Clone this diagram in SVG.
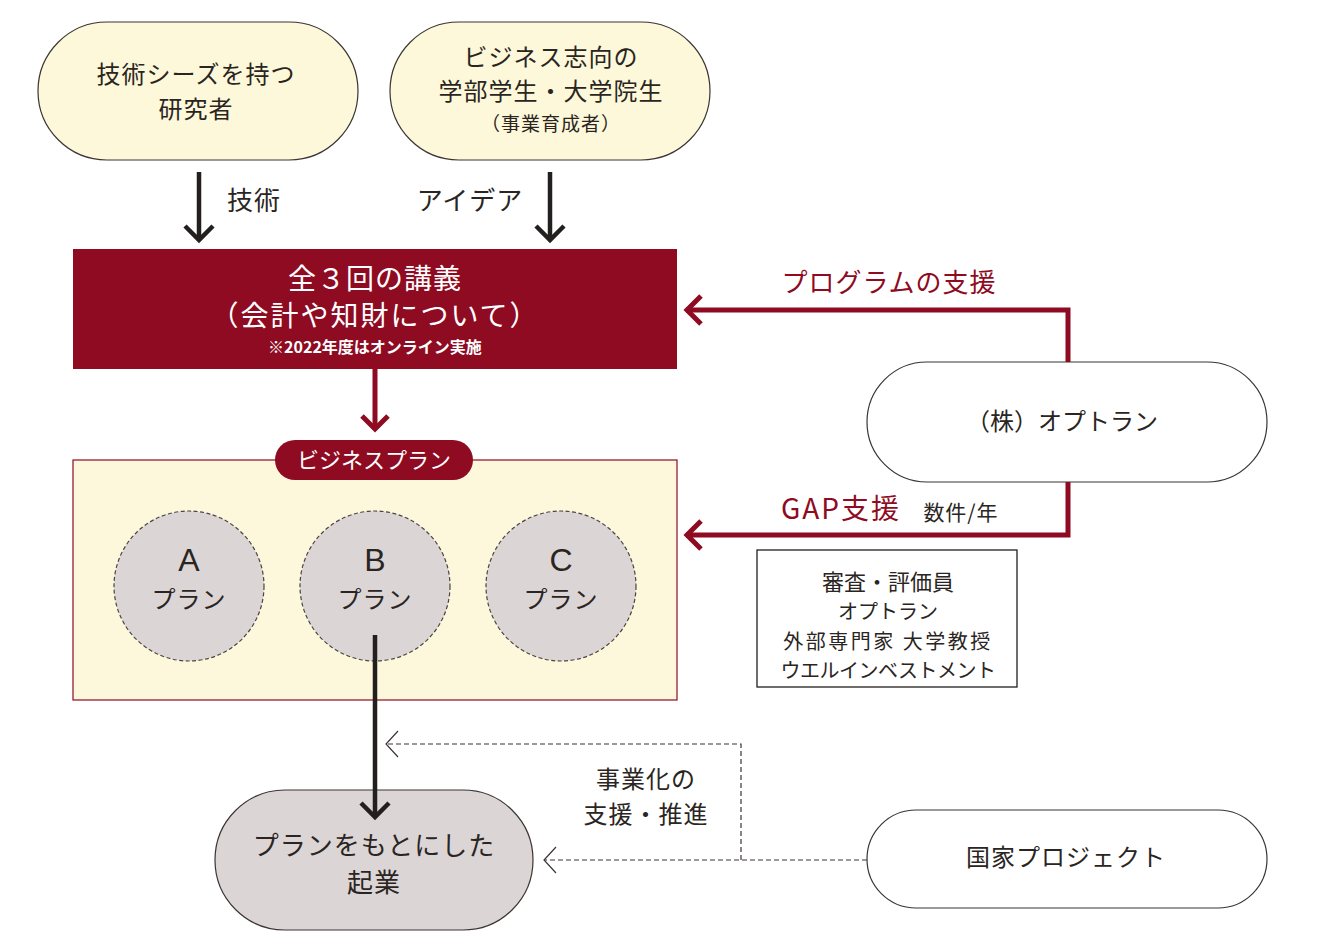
<svg xmlns="http://www.w3.org/2000/svg" width="1319" height="947" viewBox="0 0 1319 947">
<style>
text{font-family:"Noto Sans CJK JP","Noto Sans",sans-serif;font-weight:400;fill:#2a2522;text-anchor:middle;}
.w{fill:#ffffff;}
.r{fill:#8e0b22;}
.b{font-weight:700;}
.lat{font-family:"Liberation Sans",sans-serif;}
.cream{fill:#fdf8d9;stroke:#3a3533;stroke-width:1.2;}
.grey{fill:#dcd5d5;stroke:#3a3533;stroke-width:1.2;}
.white{fill:#ffffff;stroke:#3a3533;stroke-width:1.2;}
.blk{fill:none;stroke:#231f1e;stroke-width:4.5;}
.red{fill:none;stroke:#8e0b22;stroke-width:5;}
.dash{fill:none;stroke:#3a3533;stroke-width:1.2;stroke-dasharray:5 3;}
.thin{fill:none;stroke:#3a3533;stroke-width:1.2;}
.plan{fill:#dcd5d5;stroke:#4a4543;stroke-width:1.2;stroke-dasharray:4 2.5;}
</style>
<rect width="1319" height="947" fill="#ffffff"/>
<g id="researcher">
<rect class="cream" x="38" y="22" width="320" height="138" rx="69"/>
<text x="196" y="83" font-size="24" letter-spacing="1">技術シーズを持つ</text>
<text x="196" y="118" font-size="24" letter-spacing="1">研究者</text>
</g>
<g id="students">
<rect class="cream" x="390" y="22" width="320" height="138" rx="69"/>
<text x="551" y="66" font-size="24" letter-spacing="1">ビジネス志向の</text>
<text x="551" y="100" font-size="24" letter-spacing="1">学部学生・大学院生</text>
<text x="551" y="131" font-size="19" letter-spacing="1">（事業育成者）</text>
</g>
<g id="lecture">
<rect x="73" y="249" width="604" height="120" fill="#8e0b22"/>
<text class="w" x="375" y="289" font-size="28" letter-spacing="1">全３回の講義</text>
<text class="w" x="375" y="326" font-size="28" letter-spacing="2">（会計や知財について）</text>
<text class="w b" x="375" y="353" font-size="16">※2022年度はオンライン実施</text>
</g>
<g id="businessplan">
<rect x="73" y="460" width="604" height="240" fill="#fdf8dc" stroke="#8e0b22" stroke-width="1.2"/>
<rect x="275" y="440" width="198" height="40" rx="20" fill="#8e0b22"/>
<text class="w" x="374" y="468" font-size="22">ビジネスプラン</text>
</g>
<g id="planA">
<circle class="plan" cx="189" cy="586" r="75"/>
<text class="lat" x="189" y="571" font-size="32">A</text>
<text x="189" y="608" font-size="24" letter-spacing="1">プラン</text>
</g>
<g id="planB">
<circle class="plan" cx="375" cy="586" r="75"/>
<text class="lat" x="375" y="571" font-size="32">B</text>
<text x="375" y="608" font-size="24" letter-spacing="1">プラン</text>
</g>
<g id="planC">
<circle class="plan" cx="561" cy="586" r="75"/>
<text class="lat" x="561" y="571" font-size="32">C</text>
<text x="561" y="608" font-size="24" letter-spacing="1">プラン</text>
</g>
<g id="startup">
<rect class="grey" x="215" y="790" width="318" height="140" rx="70"/>
<text x="374" y="855" font-size="26" letter-spacing="1">プランをもとにした</text>
<text x="374" y="892" font-size="26" letter-spacing="1">起業</text>
</g>
<g id="optran">
<rect class="white" x="867" y="362" width="400" height="120" rx="60"/>
<text x="1062" y="430" font-size="24">（株）オプトラン</text>
</g>
<g id="reviewers">
<rect x="757" y="550" width="260" height="137" fill="#ffffff" stroke="#231f1e" stroke-width="1.3"/>
<text x="888" y="590" font-size="22">審査・評価員</text>
<text x="888" y="619" font-size="20">オプトラン</text>
<text x="888" y="649" font-size="20" letter-spacing="2.5">外部専門家 大学教授</text>
<text x="888" y="678" font-size="20" letter-spacing="-0.5">ウエルインベストメント</text>
</g>
<g id="national">
<rect class="white" x="867" y="810" width="400" height="98" rx="49"/>
<text x="1066" y="866" font-size="24" letter-spacing="1">国家プロジェクト</text>
</g>
<g id="connectors">
<path class="blk" d="M199 172 V239"/>
<polyline class="blk" points="185,226 199,240 213,226"/>
<path class="blk" d="M550 172 V239"/>
<polyline class="blk" points="536,226 550,240 564,226"/>
<text x="254" y="210" font-size="26" letter-spacing="1">技術</text>
<text x="470" y="210" font-size="26" letter-spacing="1">アイデア</text>
<path class="red" d="M375 369 V429" stroke-width="4"/>
<polyline class="red" stroke-width="4" points="362,416 375,429 388,416"/>
<path class="blk" d="M375 635 V817"/>
<polyline class="blk" points="361,803 375,817 389,803"/>
<path class="red" d="M1068 362 V310 H686"/>
<polyline class="red" points="701,296 687,310 701,324"/>
<text class="r" x="889" y="292" font-size="26" letter-spacing="1">プログラムの支援</text>
<path class="red" d="M1068 482 V535 H686"/>
<polyline class="red" points="701,521 687,535 701,549"/>
<text class="r" x="841" y="519" font-size="28" letter-spacing="2">GAP支援</text>
<text x="961" y="520" font-size="21" letter-spacing="1">数件/年</text>
<path class="dash" d="M867 860 H545"/>
<polyline class="thin" points="556,847 544,860 556,873"/>
<path class="dash" d="M741 860 V744 H387"/>
<polyline class="thin" points="398,731 386,744 398,757"/>
<text x="646" y="788" font-size="24" letter-spacing="1">事業化の</text>
<text x="646" y="823" font-size="24" letter-spacing="1">支援・推進</text>
</g>
</svg>
